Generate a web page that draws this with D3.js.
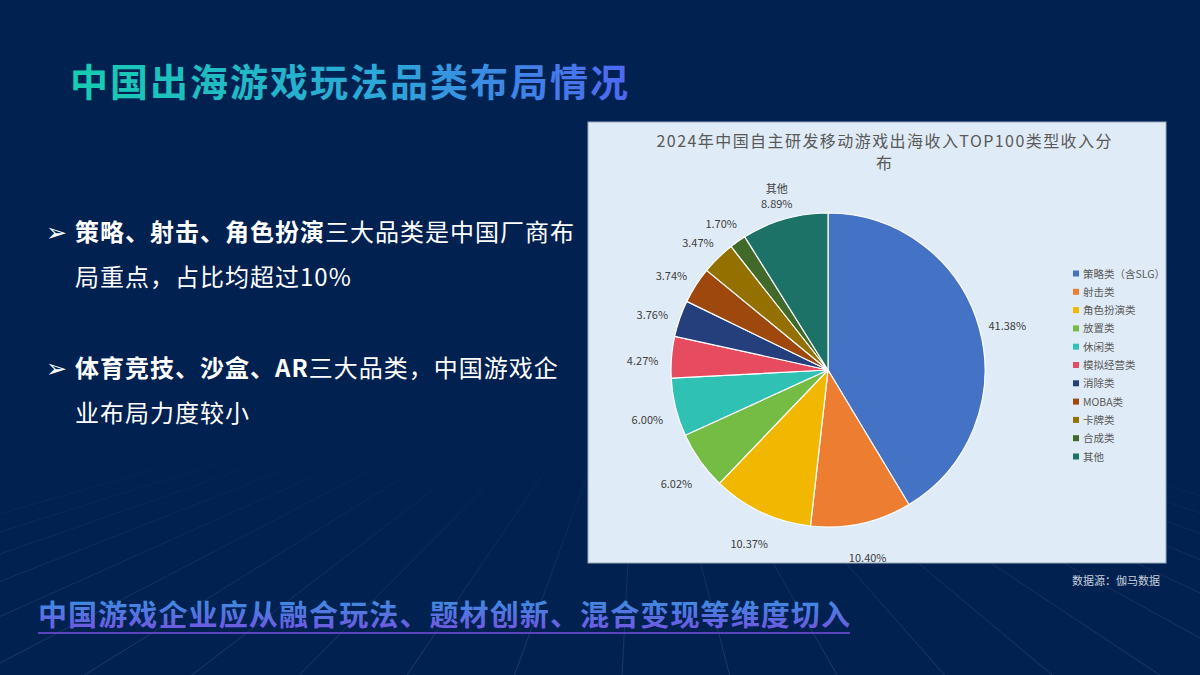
<!DOCTYPE html>
<html>
<head>
<meta charset="utf-8">
<script src="https://cdn.jsdelivr.net/npm/d3@7"></script>
<style>
  html, body { margin: 0; padding: 0; background: #012150; }
  svg { display: block; font-family: "Noto Sans CJK SC", "Noto Sans", sans-serif; }
</style>
</head>
<body>
<div id="slide"></div>
<script>
// chart data
const categories = ["策略类（含SLG）", "射击类", "角色扮演类", "放置类", "休闲类", "模拟经营类",
                    "消除类", "MOBA类", "卡牌类", "合成类", "其他"];
const shares = [41.38, 10.40, 10.37, 6.02, 6.00, 4.27, 3.76, 3.74, 3.47, 1.70, 8.89];
const colors = ["#4472C4", "#ED7D31", "#F2B700", "#74BC43", "#2FC1B4", "#E64B5F",
                "#243F7C", "#9E480E", "#937000", "#40692A", "#1D7268"];

const W = 1200, H = 675;

const svg = d3.select("#slide")
  .append("svg")
    .attr("width", W)
    .attr("height", H);

const defs = svg.append("defs");

// title gradient
const tg = defs.append("linearGradient").attr("id", "titleGrad")
  .attr("x1", "0%").attr("x2", "100%").attr("y1", "0%").attr("y2", "0%");
tg.append("stop").attr("offset", "0%").attr("stop-color", "#16CDB0");
tg.append("stop").attr("offset", "55%").attr("stop-color", "#2BA8D8");
tg.append("stop").attr("offset", "100%").attr("stop-color", "#4E68F2");

// bottom line gradient (top to bottom)
const bg = defs.append("linearGradient").attr("id", "bottomGrad")
  .attr("x1", "0%").attr("x2", "0%").attr("y1", "0%").attr("y2", "100%");
bg.append("stop").attr("offset", "0%").attr("stop-color", "#2E9BE0");
bg.append("stop").attr("offset", "100%").attr("stop-color", "#7A4FE0");

// fading for the background rays
const fg = defs.append("linearGradient").attr("id", "rayFade")
  .attr("gradientUnits", "userSpaceOnUse")
  .attr("x1", 0).attr("x2", 0).attr("y1", 440).attr("y2", 675);
fg.append("stop").attr("offset", "0%").attr("stop-color", "#6c86b8").attr("stop-opacity", 0);
fg.append("stop").attr("offset", "100%").attr("stop-color", "#6c86b8").attr("stop-opacity", 0.25);

// background
svg.append("rect").attr("width", W).attr("height", H).attr("fill", "#012150");

// background rays from a vanishing point
const vp = [640, 330];
const rayEnds = d3.range(-700, 1950, 120);
svg.append("g")
  .selectAll("line")
  .data(rayEnds)
  .join("line")
    .attr("x1", vp[0]).attr("y1", vp[1])
    .attr("x2", d => d).attr("y2", H + 40)
    .attr("stroke", "url(#rayFade)")
    .attr("stroke-width", 1);

// slide title
svg.append("text")
  .attr("x", 70).attr("y", 96)
  .attr("font-size", 38).attr("font-weight", 700)
  .attr("fill", "url(#titleGrad)")
  .attr("textLength", 558)
  .text("中国出海游戏玩法品类布局情况");

// bullets
const bullets = [
  { y: 232, lines: [[["策略、射击、角色扮演", 700], ["三大品类是中国厂商布", 400]], [["局重点，占比均超过10%", 400]]] },
  { y: 368, lines: [[["体育竞技、沙盒、AR", 700], ["三大品类，中国游戏企", 400]], [["业布局力度较小", 400]]] }
];
bullets.forEach(b => {
  svg.append("text")
    .attr("x", 46).attr("y", b.y + 9)
    .attr("font-size", 25).attr("fill", "#ffffff")
    .attr("font-family", "DejaVu Sans")
    .text("➢");
  b.lines.forEach((ln, i) => {
    const t = svg.append("text")
      .attr("x", 75).attr("y", b.y + 9 + i * 45)
      .attr("font-size", 24).attr("letter-spacing", 1)
      .attr("fill", "#ffffff");
    ln.forEach(seg => t.append("tspan").attr("font-weight", seg[1]).text(seg[0]));
  });
});

// chart panel
svg.append("rect")
  .attr("x", 588).attr("y", 122)
  .attr("width", 578).attr("height", 441)
  .attr("fill", "#DFEBF6")
  .attr("stroke", "#9aa8bb").attr("stroke-width", 1);

svg.append("text")
  .attr("x", 884).attr("y", 147)
  .attr("text-anchor", "middle")
  .attr("font-size", 16).attr("fill", "#595959")
  .attr("textLength", 455)
  .text("2024年中国自主研发移动游戏出海收入TOP100类型收入分");
svg.append("text")
  .attr("x", 884).attr("y", 169)
  .attr("text-anchor", "middle")
  .attr("font-size", 16).attr("fill", "#595959")
  .text("布");

// pie
const cx = 828, cy = 370, R = 157;
const data = categories.map((c, i) => ({ name: c, value: shares[i], color: colors[i] }));
const pie = d3.pie().sort(null).value(d => d.value);
const arcs = pie(data);
const arc = d3.arc().innerRadius(0).outerRadius(R);
const labelArc = d3.arc().innerRadius(R + 29).outerRadius(R + 29);

const g = svg.append("g").attr("transform", `translate(${cx},${cy})`);
g.selectAll("path")
  .data(arcs)
  .join("path")
    .attr("d", arc)
    .attr("fill", d => d.data.color)
    .attr("stroke", "#ffffff")
    .attr("stroke-width", 1.2);

const fmt = d3.format(".2f");
g.selectAll("text.lbl")
  .data(arcs)
  .join("text")
    .attr("class", "lbl")
    .attr("text-anchor", "middle")
    .attr("font-size", 11)
    .attr("fill", "#404040")
    .attr("transform", d => {
      const [x, y] = labelArc.centroid(d);
      return `translate(${x},${y + 10})`;
    })
    .each(function(d) {
      const t = d3.select(this);
      if (d.data.name === "其他") {
        t.append("tspan").attr("x", 0).attr("dy", -8).text(d.data.name);
        t.append("tspan").attr("x", 0).attr("dy", 15).text(fmt(d.data.value) + "%");
      } else {
        t.text(fmt(d.data.value) + "%");
      }
    });

// legend
const legend = svg.append("g").attr("transform", "translate(1073,274)");
const li = legend.selectAll("g")
  .data(data)
  .join("g")
    .attr("transform", (d, i) => `translate(0,${i * 18.3})`);
li.append("rect")
  .attr("x", 0).attr("y", -3.5)
  .attr("width", 6).attr("height", 6)
  .attr("fill", d => d.color);
li.append("text")
  .attr("x", 10).attr("y", 3.5)
  .attr("font-size", 10.5).attr("fill", "#595959")
  .text(d => d.name);

// source
svg.append("text")
  .attr("x", 1160).attr("y", 585)
  .attr("text-anchor", "end")
  .attr("font-size", 11).attr("fill", "#c8d0dc")
  .text("数据源：伽马数据");

// bottom statement
svg.append("text")
  .attr("x", 38).attr("y", 626)
  .attr("font-size", 29).attr("font-weight", 700)
  .attr("fill", "url(#bottomGrad)")
  .attr("textLength", 812)
  .text("中国游戏企业应从融合玩法、题材创新、混合变现等维度切入");
svg.append("line")
  .attr("x1", 38).attr("x2", 850)
  .attr("y1", 633).attr("y2", 633)
  .attr("stroke", "#7A4FE0").attr("stroke-width", 1.5);
</script>
</body>
</html>
